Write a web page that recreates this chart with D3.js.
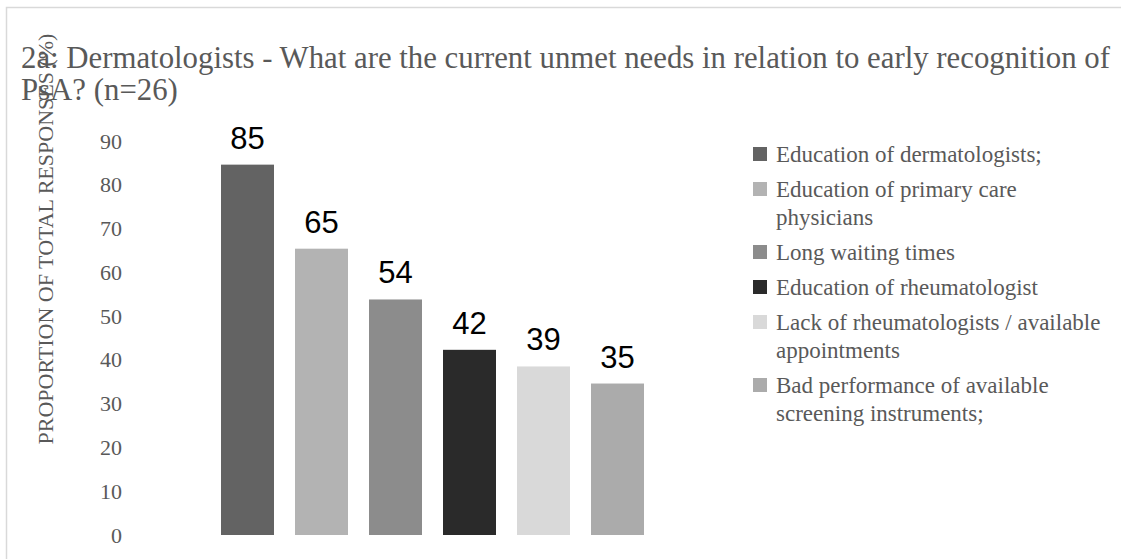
<!DOCTYPE html>
<html>
<head>
<meta charset="utf-8">
<script src="https://cdn.jsdelivr.net/npm/d3@7"></script>
<style>
  body { margin: 0; background: #fff; }
  svg { display: block; }
</style>
</head>
<body>
<div id="chart"></div>
<script>
/* Unmet needs bar chart, grey palette */

const categories = [
    "Education of dermatologists;",
    "Education of primary care physicians",
    "Long waiting times",
    "Education of rheumatologist",
    "Lack of rheumatologists / available appointments",
    "Bad performance of available screening instruments;"
];
const values = [84.6, 65.4, 53.8, 42.3, 38.5, 34.6];
const colors = ["#636363", "#b3b3b3", "#8c8c8c", "#2a2a2a", "#d9d9d9", "#ababab"];
const yTicks = [0, 10, 20, 30, 40, 50, 60, 70, 80, 90];
const titleLines = [
    "2a: Dermatologists - What are the current unmet needs in relation to early recognition of",
    "PsA? (n=26)"
];
const yTitle = "PROPORTION OF TOTAL RESPONSES (%)";

const width = 1121;
const height = 559;
const serif = "'Liberation Serif', 'Times New Roman', serif";

const data = categories.map((c, i) => ({ name: c, value: values[i], color: colors[i] }));

let svg = d3.select("#chart")
    .append("svg")
    .attr("width", width)
    .attr("height", height);

// chart area border (runs off the right and bottom edges)
svg.append("rect")
    .attr("x", 6.5).attr("y", 7.5)
    .attr("width", width).attr("height", height)
    .attr("fill", "none")
    .attr("stroke", "#d9d9d9")
    .attr("stroke-width", 1.5);

const x = d3.scaleBand()
    .domain(categories)
    .range([210.5, 654.5])
    .paddingInner(0.284)
    .paddingOuter(0.142);

const y = d3.scaleLinear()
    .domain([0, 90])
    .range([535, 141]);

// y axis, labels only
svg.append("g")
    .attr("transform", "translate(122,0)")
    .call(d3.axisLeft(y).tickValues(yTicks).tickSize(0).tickPadding(0))
    .call(g => g.select(".domain").remove())
    .call(g => g.selectAll("text")
        .attr("font-family", serif)
        .attr("font-size", 22)
        .attr("fill", "#595959"));

svg.append("text")
    .attr("transform", "translate(53,239) rotate(-90)")
    .attr("text-anchor", "middle")
    .attr("font-family", serif)
    .attr("font-size", 22)
    .attr("fill", "#595959")
    .text(yTitle);

// title drawn after the axis title so they overlap like the original
svg.append("text")
    .attr("font-family", serif)
    .attr("font-size", 30.8)
    .attr("fill", "#595959")
    .selectAll("tspan")
    .data(titleLines)
    .join("tspan")
    .attr("x", 21)
    .attr("y", (d, i) => 68 + i * 32)
    .text(d => d);

let bar = svg.selectAll(".bar")
    .data(data)
    .join("g")
    .attr("class", "bar");

bar.append("rect")
    .attr("fill", d => d.color)
    .attr("x", d => x(d.name))
    .attr("width", x.bandwidth())
    .attr("y", d => y(d.value))
    .attr("height", d => y(0) - y(d.value));

bar.append("text")
    .text(d => d3.format(".0f")(d.value))
    .attr("x", d => x(d.name) + x.bandwidth() / 2)
    .attr("y", d => y(d.value) - 16)
    .attr("text-anchor", "middle")
    .attr("font-family", "'Liberation Sans', Arial, sans-serif")
    .attr("font-size", 31)
    .style("fill", "#000");

// legend with wrapped labels
const legendX = 753;
const legendFont = 23;
const lineH = 28;
const itemGap = 35;
const maxW = 334;

const measure = svg.append("text")
    .attr("font-family", serif)
    .attr("font-size", legendFont);

function wrap(str) {
    let words = str.split(" "), lines = [], cur = "";
    for (let w of words) {
        let test = cur ? cur + " " + w : w;
        measure.text(test);
        if (measure.node().getComputedTextLength() > maxW && cur) {
            lines.push(cur);
            cur = w;
        } else {
            cur = test;
        }
    }
    lines.push(cur);
    return lines;
}

let base = 162;
const legend = svg.append("g");
for (let d of data) {
    const lines = wrap(d.name);
    legend.append("rect")
        .attr("x", legendX)
        .attr("y", base - 15)
        .attr("width", 14)
        .attr("height", 14)
        .attr("fill", d.color);
    legend.append("text")
        .attr("font-family", serif)
        .attr("font-size", legendFont)
        .attr("fill", "#595959")
        .selectAll("tspan")
        .data(lines)
        .join("tspan")
        .attr("x", legendX + 23)
        .attr("y", (l, i) => base + i * lineH)
        .text(l => l);
    base += itemGap + (lines.length - 1) * lineH;
}
measure.remove();
</script>
</body>
</html>
